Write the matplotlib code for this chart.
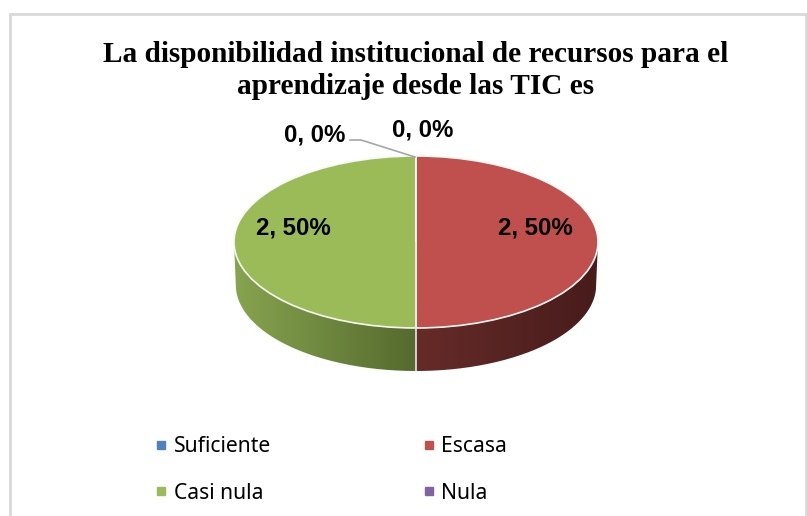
import matplotlib
matplotlib.use("Agg")
import matplotlib.pyplot as plt
import numpy as np
from matplotlib.lines import Line2D
from matplotlib.patches import PathPatch, Rectangle
from matplotlib.path import Path

W, H = 807, 516

title_lines = ["La disponibilidad institucional de recursos para el", "aprendizaje desde las TIC es"]
categories = ["Suficiente", "Escasa", "Casi nula", "Nula"]
values = [0, 2, 2, 0]
percents = [0, 50, 50, 0]
colors = ["#4F81BD", "#C0504D", "#9BBB59", "#8064A2"]


def fx(x):
    return x / W


def fy(y):
    return 1 - y / H


def add_wall(ax, t0, t1, c0, c1, depth):
    # side of the disc: a gradient clipped to the strip below the rim
    t = np.radians(np.linspace(t0, t1, 120))
    x = np.cos(t)
    y = np.sin(t)
    verts = np.vstack([np.column_stack([x, y]), np.column_stack([x * 0.99, y - depth])[::-1]])
    c0 = np.array(matplotlib.colors.to_rgb(c0))
    c1 = np.array(matplotlib.colors.to_rgb(c1))
    f = np.linspace(0, 1, 256)[:, None]
    grad = (c0 + (c1 - c0) * f)[None, :, :]
    im = ax.imshow(grad, extent=(x.min(), x.max(), -1 - depth, 0), aspect="auto", zorder=0)
    im.set_clip_path(PathPatch(Path(verts), transform=ax.transData))


fig = plt.figure(figsize=(W / 100, H / 100), dpi=100, facecolor="white")
fig.add_artist(Rectangle((fx(10), fy(530)), fx(796), fy(14) - fy(530), transform=fig.transFigure,
                         facecolor="none", edgecolor="#D9D9D9", linewidth=2, zorder=-1))

# top face spans x 234-598, y 156-328, the wall hangs 43 px lower
depth = 43 / 86
ax = fig.add_axes([fx(234), fy(371), fx(598) - fx(234), fy(156) - fy(371)])
ax.pie(values, colors=colors, startangle=90, counterclock=False,
       wedgeprops={"edgecolor": "#F8F8F4", "linewidth": 1.2})
add_wall(ax, 180, 270, "#87A44F", "#556A2E", depth)
add_wall(ax, 270, 360, "#662B29", "#471C1B", depth)
ax.plot([0, 0], [-1, -1 - depth], color="#E8E8E8", linewidth=1.2, zorder=1)
ax.set_aspect("auto")
ax.set_xlim(-1, 1)
ax.set_ylim(-1 - depth, 1)
ax.axis("off")

for i, line in enumerate(title_lines):
    fig.text(fx(416), fy(54 + i * 32), line, ha="center", va="center",
             family="Liberation Serif", fontweight="bold", fontsize=21.05, color="black")

labels = [f"{v}, {p}%" for v, p in zip(values, percents)]
label_pos = [(315, 135), (535, 228), (293, 228), (423, 130)]
for text, (x, y) in zip(labels, label_pos):
    fig.text(fx(x), fy(y), text, ha="center", va="center", family="Liberation Sans",
             fontweight="bold", fontsize=17.3, color="black")

fig.add_artist(Line2D([fx(350), fx(361), fx(415)], [fy(140), fy(140), fy(157)],
                      color="#A6A6A6", linewidth=1.2))

handles = [Line2D([], [], linestyle="none", marker="s", markersize=5.5, color=c) for c in colors]
order = [0, 2, 1, 3]
fig.legend([handles[i] for i in order], [categories[i] for i in order], ncol=2, frameon=False,
           loc="center left", bbox_to_anchor=(fx(136), fy(470)), prop={"family": "Noto Sans", "size": 15.2},
           columnspacing=7.15, handlelength=0.6, handletextpad=0.3, labelspacing=1.22)

fig.savefig("out.png", dpi=100, facecolor="white")
